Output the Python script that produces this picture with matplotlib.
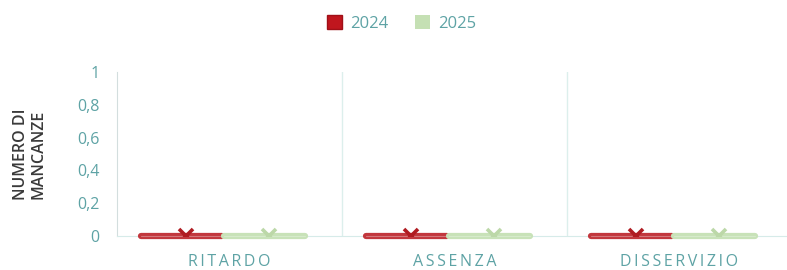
import numpy as np
import matplotlib.pyplot as plt
import matplotlib.patheffects as pe
from matplotlib.patches import Patch

categorie = ["RITARDO", "ASSENZA", "DISSERVIZIO"]
anni = ["2024", "2025"]
valori_2024 = [0, 0, 0]
valori_2025 = [0, 0, 0]
y_ticks = [0, 0.2, 0.4, 0.6, 0.8, 1]

plt.rcParams['font.family'] = ['Open Sans', 'DejaVu Sans']
teal = '#5ea3a5'
rosso = '#c0161e'
verde = '#c5e0b4'

fig = plt.figure(figsize=(7.87, 2.70), dpi=100)
ax = fig.add_axes([0.149, 0.126, 0.851, 0.607])

x = np.arange(len(categorie))
w = 0.36
serie = [(valori_2024, -0.215, '#c2373d', '#d4767a', '#b01c22'),
         (valori_2025, 0.155, '#c8e2b8', '#d6eacb', '#bcd8a8')]
for vals, off, col, stripe, mcol in serie:
    bars = ax.bar(x + off, vals, w, color=col, edgecolor=stripe, linewidth=0.8,
                  zorder=3, clip_on=False)
    for b in bars:
        b.set_joinstyle('round')
        b.set_capstyle('round')
        b.set_path_effects([pe.Stroke(linewidth=4.5, foreground=col, capstyle='round'),
                            pe.Normal()])
    ax.plot(x + off + 0.02, vals, linestyle='none', marker='x', markersize=10,
            markeredgewidth=2.6, color=mcol, zorder=4)

for sep in x[:-1] + 0.5:
    ax.axvline(sep, color='#dcefec', linewidth=1, zorder=1)

ax.set_xlim(-0.5, 2.478)
ax.set_ylim(0, 1)
ax.set_yticks(y_ticks)
ax.set_yticklabels([f"{t:g}".replace('.', ',') for t in y_ticks])
ax.set_xticks(x)
ax.set_xticklabels(["\u2009".join(c) for c in categorie])
ax.tick_params(length=0, colors=teal, labelsize=11.5)
ax.tick_params(axis='y', pad=13)
ax.tick_params(axis='x', pad=13)

for s in ['top', 'right']:
    ax.spines[s].set_visible(False)
ax.spines['left'].set_color('#d3dede')
ax.spines['bottom'].set_color('#d6ebe9')

ax.set_ylabel("NUMERO DI\nMANCANZE", color='#3a3a3a', fontsize=11.5,
              fontweight='semibold', linespacing=1.1, labelpad=22)

handles = [Patch(facecolor=rosso, edgecolor='#a01018'), Patch(facecolor=verde)]
fig.legend(handles, anni, loc='upper center', bbox_to_anchor=(0.51, 1.0),
           ncol=2, frameon=False, fontsize=12, labelcolor=teal,
           handlelength=0.9, handleheight=0.9, handletextpad=0.5, columnspacing=1.6)

fig.savefig("out.png", dpi=100)
